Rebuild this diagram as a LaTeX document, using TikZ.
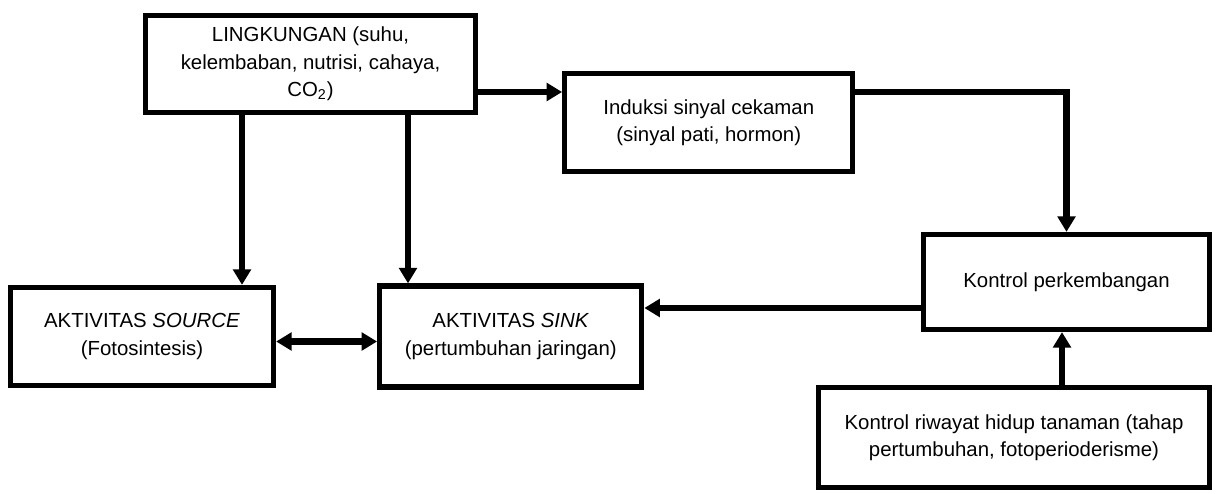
\documentclass[tikz,border=0pt]{standalone}
\usepackage{fontspec}
\setmainfont{Liberation Sans}
\usetikzlibrary{arrows.meta,positioning}

\begin{document}
\begin{tikzpicture}[
  node distance=1cm,
  every node/.style={font=\fontsize{11.6}{15.6}\selectfont},
  flowbox/.style={rectangle, draw, line width=0.105cm, align=center,
    inner sep=2pt},
  arr/.style={-{Triangle[length=0.31cm,width=0.35cm]}, line width=0.13cm},
  darr/.style={{Triangle[length=0.31cm,width=0.35cm]}-{Triangle[length=0.31cm,width=0.35cm]},
    line width=0.13cm},
]
\useasboundingbox (0,0) rectangle (24.4,-9.88);

% Row 1
\node[flowbox, minimum width=6.6cm, minimum height=1.94cm] (ling) at (6.21,-1.28)
  {LINGKUNGAN (suhu,\\ kelembaban, nutrisi, cahaya,\\ CO\textsubscript{2})};

\node[flowbox, minimum width=5.76cm, minimum height=1.96cm,
  right=1.68cm of ling, yshift=-1.17cm] (induksi)
  {Induksi sinyal cekaman\\ (sinyal pati, hormon)};

% Row 2
\node[flowbox, minimum width=5.26cm, minimum height=1.96cm] (source) at (2.84,-6.73)
  {AKTIVITAS \textit{SOURCE}\\ (Fotosintesis)};

\node[flowbox, minimum width=5.24cm, minimum height=2.02cm,
  right=2.02cm of source] (sink)
  {AKTIVITAS \textit{SINK}\\ (pertumbuhan jaringan)};

\node[flowbox, minimum width=5.72cm, minimum height=1.9cm] (kontrol) at (21.33,-5.64)
  {Kontrol perkembangan};

\node[flowbox, minimum width=7.82cm, minimum height=2cm, anchor=north east]
  (riwayat) at ([yshift=-1.06cm]kontrol.south east)
  {Kontrol riwayat hidup tanaman (tahap\\ pertumbuhan, fotoperioderisme)};

% Arrows
\draw[arr] ([yshift=-0.56cm]ling.east) coordinate (l1) -- (l1 -| induksi.west);
\draw[arr] ([yshift=0.61cm]induksi.east) -| (kontrol.north);
\draw[arr] ([xshift=-1.37cm]ling.south) coordinate (l2) -- (l2 |- source.north);
\draw[arr] ([xshift=1.95cm]ling.south) coordinate (l3) -- (l3 |- sink.north);
\draw[darr] ([yshift=-0.1cm]source.east) coordinate (s1) -- (s1 -| sink.west);
\draw[arr] ([yshift=-0.52cm]kontrol.west) coordinate (k1) -- (k1 -| sink.east);
\draw[arr] ([xshift=0.96cm]riwayat.north) coordinate (r1) -- (r1 |- kontrol.south);

\end{tikzpicture}
\end{document}
